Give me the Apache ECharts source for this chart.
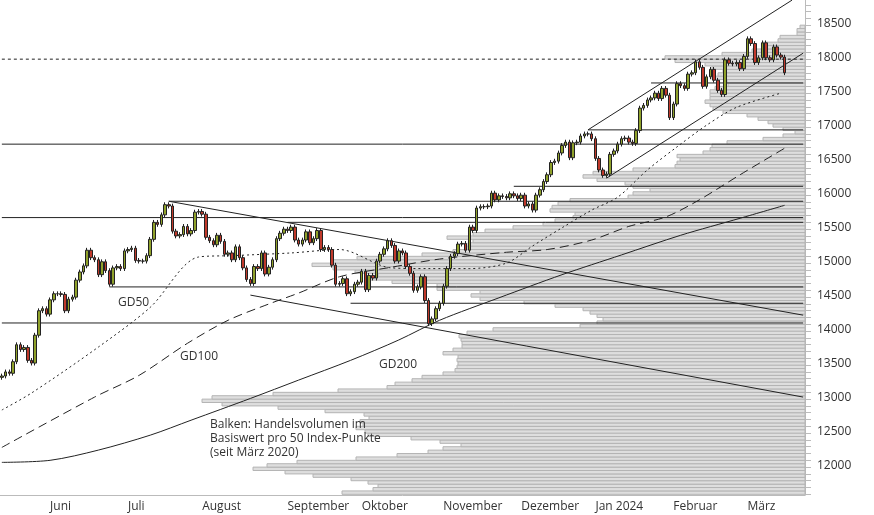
<!DOCTYPE html>
<html>
<head>
<meta charset="utf-8">
<script src="https://cdn.jsdelivr.net/npm/echarts@6/dist/echarts.min.js"></script>
<style>html,body{margin:0;padding:0;background:#fff}#chart-container{width:874px;height:515px}</style>
</head>
<body>
<div id="chart-container"></div>
<script>
// trading days per month (Mai 2023 ab 12.5. ... März 2024 bis 15.3.)
var monthNames = ["", "Juni", "Juli", "August", "September", "Oktober", "November", "Dezember", "Jan 2024", "Februar", "März"];
var monthDays = [13, 21, 20, 23, 20, 22, 21, 20, 21, 20, 11];
var padDays = 5;

var closes = [
  13340, 13400, 13380, 13550, 13800, 13730, 13760, 13570, 13530, 13940, 14300, 14330, 14250,
  14460, 14550, 14550, 14540, 14300, 14470, 14500, 14750, 14870, 14960, 15190, 15080, 15050, 14830, 15020, 14890, 14690, 14930, 14950, 14920, 15180,
  15200, 15220, 15040, 15030, 15030, 15110, 15350, 15600, 15570, 15710, 15860, 15840, 15470, 15400, 15420, 15540, 15430, 15480, 15750, 15760,
  15720, 15380, 15330, 15270, 15410, 15320, 15130, 15150, 15050, 15240, 15080, 14930, 14760, 14700, 14950, 14920, 15150, 14840, 14940, 15050, 15360, 15440, 15500,
  15480, 15530, 15340, 15280, 15340, 15460, 15300, 15360, 15480, 15200, 15230, 15200, 14970, 14690, 14700, 14770, 14550, 14580, 14690, 14720,
  14880, 14610, 14820, 14780, 15030, 15130, 15210, 15330, 15260, 15030, 15180, 15150, 14950, 14850, 14600, 14650, 14800, 14450, 14110, 14180, 14330, 14410,
  14660, 14920, 15100, 15140, 15280, 15290, 15190, 15530, 15480, 15810, 15830, 15830, 15840, 16030, 15930, 15990, 15980, 15960, 16020, 15990, 15950,
  16000, 15840, 15870, 15780, 16000, 16080, 16200, 16300, 16480, 16500, 16620, 16730, 16780, 16550, 16770, 16780, 16870, 16900, 16900, 16830,
  16540, 16370, 16290, 16310, 16600, 16650, 16750, 16830, 16840, 16780, 16760, 16950, 17280, 17320, 17400, 17430, 17500, 17420, 17570, 17470, 17140,
  17340, 17640, 17610, 17570, 17780, 17800, 17960, 17880, 17600, 17740, 17850, 17690, 17540, 17480, 17990, 17940, 17930, 17950, 17860, 18040,
  18300, 18230, 17950, 18020, 18240, 18020, 17990, 18180, 18060, 18030, 17800
];

// moving averages: trading-day index / value
var gd50Idx = [0, 8, 26, 40, 53, 62, 78, 91, 105, 115, 126, 136, 143, 151, 159, 166, 174, 182, 190, 198, 210];
var gd50Val = [12840, 13090, 13765, 14350, 15090, 15110, 15150, 15200, 14930, 14920, 14920, 15000, 15250, 15520, 15780, 15970, 16370, 16710, 17030, 17290, 17500];
var gd100Idx = [0, 25, 37, 50, 61, 72, 80, 91, 105, 118, 136, 147, 159, 169, 179, 188, 199, 211];
var gd100Val = [12290, 13030, 13350, 13820, 14160, 14400, 14560, 14800, 14940, 15060, 15160, 15200, 15340, 15540, 15680, 15930, 16300, 16690];
var gd200Idx = [0, 13, 26, 40, 51, 67, 80, 94, 107, 118, 134, 151, 167, 183, 199, 211];
var gd200Val = [12070, 12100, 12250, 12470, 12690, 13010, 13280, 13570, 13870, 14160, 14490, 14830, 15120, 15410, 15660, 15850];

// horizontal support/resistance: [startIndex, level]
var hLines = [[0, 16750], [0, 15670], [0, 14120], [45, 15910], [77, 15600], [138, 16130], [29, 14650], [94, 14410], [158, 16960], [175, 17650]];
var dotLevel = 18000;
// trend lines: [i1, p1, i2, p2]
var tLines = [[45, 15910, 216, 14235], [67, 14530, 216, 13030], [158, 16960, 213, 18868], [163, 16250, 216, 18088]];

// volume profile per 50 points, from 11600 upward
var profileStart = 11600;
var profileLeft = [
  342, 373, 378, 368, 351, 313, 285, 253, 267, 297, 356, 397, 428, 443, 461, 440, 411, 368, 365, 356,
  363, 360, 369, 364, 325, 278, 222, 202, 212, 273, 338, 387, 395, 412, 422, 443, 455, 457, 458, 457,
  458, 443, 453, 462, 462, 461, 459, 467, 493,
  580, 597, 603, 597, 590, 583, 555, 524, 480, 471, 480, 437, 437, 392, 370, 378, 355, 333, 312, 333,
  357, 422, 453, 467, 468, 473, 447, 473, 485, 513, 543, 555, 573, 575, 550, 552, 558, 570, 628, 633,
  650, 633, 625, 597, 583, 593, 633, 675, 677, 680, 677, 703, 710,
  712, 727, 763, 783, 795, 783, 773, 768, 758, 747, 723, 713, 710, 705, 710, 710, 710, 715, 728, 727,
  712, 718, 723, 712, 705, 675, 665, 722, 752, 762, 762, 778, 780, 797, 797, 800
];

var yTicks = [], yLabels = [];
for (var v = 11600; v <= 18800; v += 100) yTicks.push(v);
for (var v = 12000; v <= 18500; v += 500) yLabels.push(v);

var cats = [], monthStart = {}, idx = 0;
monthDays.forEach(function (n, m) {
  monthStart[idx] = monthNames[m];
  for (var d = 0; d < n; d++) cats.push(m + "-" + d), idx++;
});
for (var d = 0; d < padDays; d++) cats.push("pad" + d);
delete monthStart[0];

var candles = closes.map(function (c, i) {
  var o = i ? closes[i - 1] : c - 20;
  return [o, c, Math.min(o, c) - 35, Math.max(o, c) + 35];
});
var profile = profileLeft.map(function (x, i) { return [805 - x, profileStart + i * 50]; });

function seg(a, b, c, d, dashed) {
  return {
    type: "line", data: [[a, b], [c, d]], symbol: "none", silent: true, z: 3,
    lineStyle: { color: "#222", width: 1, type: dashed ? [3, 3] : "solid" }, animation: false
  };
}
function ma(ix, vals, type) {
  return {
    type: "line", data: ix.map(function (x, i) { return [x, vals[i]]; }), symbol: "none", smooth: 0.3,
    silent: true, z: 4, lineStyle: { color: "#222", width: 1, type: type }, animation: false
  };
}

var series = [{
  type: "custom", xAxisIndex: 1, yAxisIndex: 0, z: 1, silent: true,
  renderItem: function (params, api) {
    var p1 = api.coord([api.value(0), api.value(1) + 50]);
    var p0 = api.coord([0, api.value(1)]);
    return { type: "rect", shape: { x: p1[0], y: p1[1], width: p0[0] - p1[0], height: p0[1] - p1[1] },
      style: { fill: "#dedede", stroke: "#b4b4b4", lineWidth: 1 } };
  },
  data: profile, animation: false
}];
hLines.forEach(function (h) { series.push(seg(h[0], h[1], cats.length - 1, h[1])); });
series.push(seg(0, dotLevel, cats.length - 1, dotLevel, true));
tLines.forEach(function (t) { series.push(seg(t[0], t[1], t[2], t[3])); });
series.push(ma(gd50Idx, gd50Val, [2, 3]));
series.push(ma(gd100Idx, gd100Val, [9, 5]));
series.push(ma(gd200Idx, gd200Val, "solid"));
series.push({
  type: "candlestick", data: candles, barWidth: 3, z: 5, animation: false,
  itemStyle: { color: "#8fa12a", color0: "#c0392b", borderColor: "#222", borderColor0: "#222", borderWidth: 1 }
});

var myChart = echarts.init(document.getElementById("chart-container"), null, { renderer: "canvas" });
var txt = { fill: "#333", font: "12px 'Open Sans', sans-serif" };
var notes = [
  { type: "text", z: 100, left: 118, top: 297, style: Object.assign({ text: "GD50" }, txt) },
  { type: "text", z: 100, left: 180, top: 351, style: Object.assign({ text: "GD100" }, txt) },
  { type: "text", z: 100, left: 379, top: 359, style: Object.assign({ text: "GD200" }, txt) },
  { type: "text", z: 100, left: 210, top: 418, style: Object.assign({ text: "Balken: Handelsvolumen im\nBasiswert pro 50 Index-Punkte\n(seit März 2020)", lineHeight: 14 }, txt) }
];
myChart.setOption({
  animation: false,
  grid: { left: 0, right: 69, top: 0, bottom: 20 },
  xAxis: [{
    type: "category", data: cats, boundaryGap: true,
    axisLine: { lineStyle: { color: "#bbb" } },
    axisTick: { interval: function (i) { return monthStart[i] !== undefined; }, length: 5, lineStyle: { color: "#bbb" } },
    axisLabel: {
      interval: function (i) { return monthStart[i] !== undefined; },
      formatter: function (v, i) { return monthStart[i] || ""; },
      align: "left", margin: 6, color: "#333", fontSize: 12, fontFamily: "Open Sans"
    }
  }, { type: "value", min: 0, max: 805, inverse: true, show: false }],
  yAxis: {
    type: "value", position: "right", min: 11590, max: 18870, scale: true,
    splitLine: { show: false },
    axisLine: { show: true, lineStyle: { color: "#bbb" } },
    axisTick: { show: true, customValues: yTicks, length: 6, lineStyle: { color: "#bbb" } },
    axisLabel: { show: false }
  },
  graphic: notes,
  series: series
});
// price labels without thousands separator
yLabels.forEach(function (v) {
  var y = myChart.convertToPixel({ yAxisIndex: 0 }, v);
  notes.push({ type: "text", z: 100, left: 817, top: y - 8,
    style: { text: String(v), fill: "#333", font: "12px 'Open Sans', sans-serif" } });
});
myChart.setOption({ graphic: notes });
window.addEventListener("resize", myChart.resize);
</script>
</body>
</html>
